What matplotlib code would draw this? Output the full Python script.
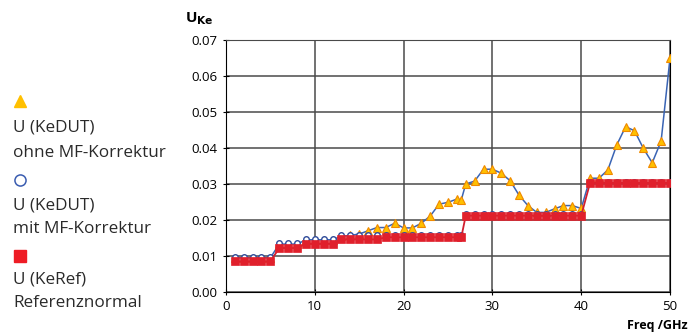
import matplotlib.pyplot as plt
from matplotlib.lines import Line2D
from matplotlib.ticker import FormatStrFormatter

plt.rcParams['font.family'] = ['Open Sans', 'DejaVu Sans']

# frequencies in GHz
freq = [1, 2, 3, 4, 5, 6, 7, 8, 9, 10, 11, 12, 13, 14, 15, 16, 17, 18, 19, 20,
        21, 22, 23, 24, 25, 26, 26.5, 27, 28, 29, 30, 31, 32, 33, 34, 35, 36, 37,
        38, 39, 40, 41, 42, 43, 44, 45, 46, 47, 48, 49, 50]

# U (KeDUT) ohne MF-Korrektur
u_ohne = [0.0095, 0.0095, 0.0095, 0.0095, 0.0095, 0.0133, 0.0133, 0.0133,
          0.0145, 0.0145, 0.0145, 0.0145, 0.0155, 0.0157, 0.0161, 0.0170,
          0.0179, 0.0179, 0.0191, 0.0178, 0.0178, 0.0191, 0.0211, 0.0244,
          0.0249, 0.0258, 0.0256, 0.0300, 0.0308, 0.0341, 0.0341, 0.0330,
          0.0309, 0.0269, 0.0240, 0.0221, 0.0221, 0.0231, 0.0240, 0.0240,
          0.0232, 0.0316, 0.0316, 0.0339, 0.0408, 0.0459, 0.0448, 0.0399,
          0.0359, 0.0419, 0.0649]

# U (KeDUT) mit MF-Korrektur
u_mit = [0.0097] * 5 + [0.0136] * 3 + [0.0146] * 4 + [0.0157] * 5 + \
        [0.0159] * 10 + [0.0216] * 14 + [0.0306] * 10

# U (KeRef) Referenznormal
u_ref = [0.0085] * 5 + [0.0122] * 3 + [0.0134] * 4 + [0.0146] * 5 + \
        [0.0152] * 10 + [0.0212] * 14 + [0.0303] * 10

fig = plt.figure(figsize=(6.9, 3.36), dpi=100)
ax = fig.add_axes([0.3275, 0.131, 0.6435, 0.75])

ax.plot(freq, u_ohne, color="#3A64B4", lw=1.1, zorder=3)
ax.plot(freq, u_ohne, linestyle="none", marker="^", ms=5.5,
        mfc="#FFC000", mec="#F08A00", mew=0.8, zorder=4)
ax.plot(freq, u_mit, linestyle="none", marker="o", ms=4.0,
        mfc="white", mec="#2F4C9C", mew=1.0, zorder=5)
ax.plot(freq, u_ref, color="#D02030", lw=1.3, marker="s", ms=5.1,
        mfc="#E0202C", mec="#E0202C", mew=0.5, zorder=6)

ax.set_xlim(0, 50)
ax.set_ylim(0, 0.07)
ax.set_xticks([0, 10, 20, 30, 40, 50])
ax.set_yticks([0, 0.01, 0.02, 0.03, 0.04, 0.05, 0.06, 0.07])
ax.yaxis.set_major_formatter(FormatStrFormatter('%.2f'))
ax.grid(True, color="#4a4a4a", lw=1.1)
ax.set_axisbelow(True)
ax.spines["top"].set_color("#4a4a4a")
ax.spines["right"].set_color("black")
ax.tick_params(axis="both", direction="inout", length=5, labelsize=9.5, colors="black")
ax.tick_params(axis="x", pad=3)

fig.text(0.268, 0.935, r"U$_{\mathbf{Ke}}$", fontsize=11, fontweight="bold")
fig.text(0.997, 0.02, "Freq /GHz", fontsize=9, fontweight="bold", ha="right")

# legend on the left
W, H = 690, 336
def fy(p):
    return 1 - p / H

fig.add_artist(Line2D([20 / W], [fy(101)], marker="^", ms=9, color="#FFC000",
                      mec="#FFC000", transform=fig.transFigure))
fig.add_artist(Line2D([20 / W], [fy(180)], marker="o", ms=8, mfc="white",
                      mec="#3A5CB0", mew=1.1, transform=fig.transFigure))
fig.add_artist(Line2D([20 / W], [fy(256)], marker="s", ms=8, color="#EE1C25",
                      transform=fig.transFigure))

lines = [(128, "U (KeDUT)"), (153, "ohne MF-Korrektur"),
         (205, "U (KeDUT)"), (229, "mit MF-Korrektur"),
         (279, "U (KeRef)"), (303, "Referenznormal")]
for py, txt in lines:
    fig.text(13 / W, fy(py), txt, fontsize=12.3, va="center", color="#2a2a2a")

fig.savefig("out.png", dpi=100)
